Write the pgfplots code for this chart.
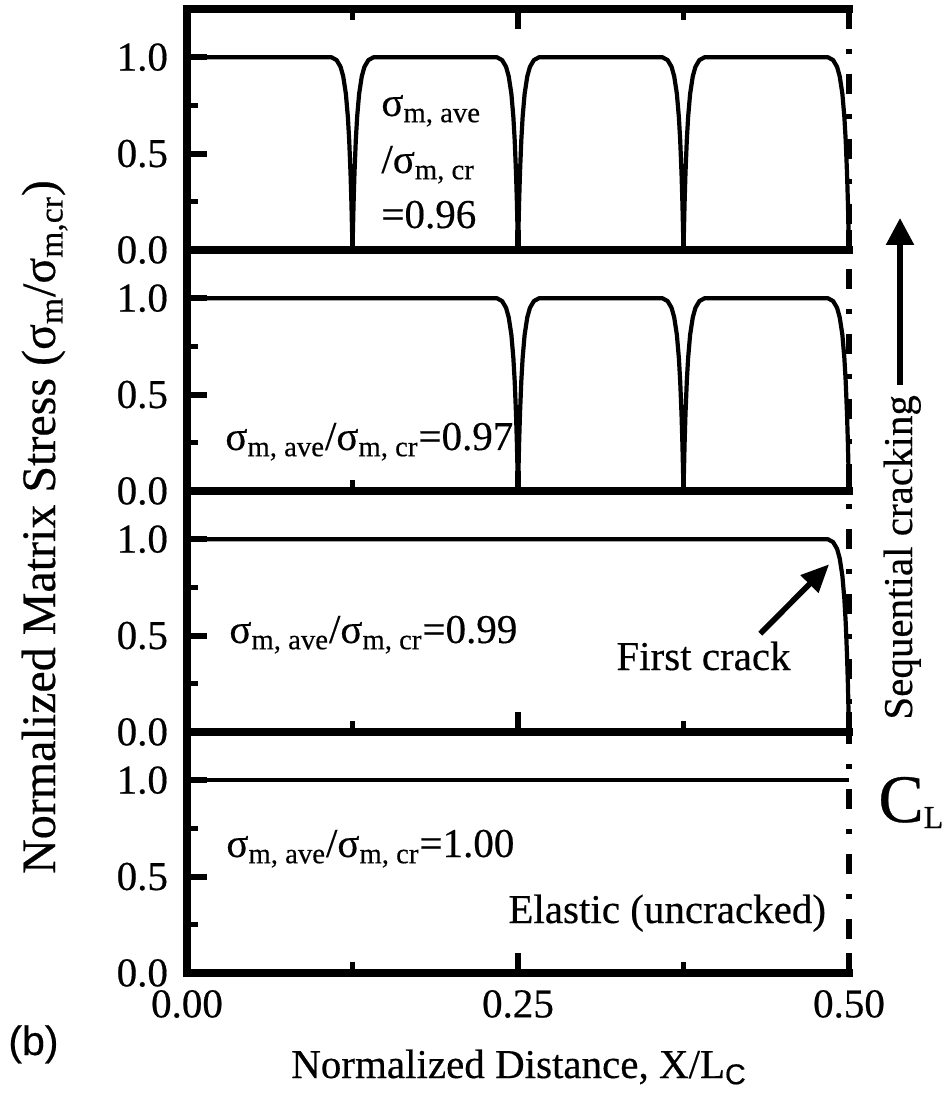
\documentclass[border=0pt]{standalone}
\usepackage{graphicx}
\usepackage{pgfplots}
\pgfplotsset{compat=1.18}
\usepackage{fontspec}
\setmainfont{Liberation Serif}[FakeBold=0.4]
\newfontfamily\sansf{Liberation Sans}[FakeBold=0.4]
\usetikzlibrary{arrows.meta}

\newcommand\fs{\fontsize{20.5}{24}\selectfont}
\newcommand\ratio{σ\textsubscript{m, ave}/σ\textsubscript{m, cr}}

\pgfplotsset{
  panel/.style={
    scale only axis, width=331pt, height=120.5pt,
    xmin=0, xmax=0.5, ymin=0, ymax=1.25,
    axis y line*=left, axis x line*=bottom,
    xtick={0,0.25,0.5}, minor xtick={0.125,0.375},
    ytick={0,0.5,1}, minor ytick={0.25,0.75},
    yticklabels={0.0,0.5,1.0},
    xticklabels={},
    tick align=inside,
    major tick length=0pt, minor tick length=0pt,
    tick label style={font=\fs},
    yticklabel style={xshift=-6pt},
    clip=false,
  },
}
\tikzset{
  stress/.style={black, line width=2.1pt, line join=round},
  frame/.style={black, line width=3.6pt, line cap=rect},
  tk/.style={black, line width=3pt},
  tkm/.style={black, line width=2.4pt},
}

% frame and inward ticks of one panel (left and bottom sides)
\newcommand\panelframe{%
  \draw[frame] (rel axis cs:0,1) -- (rel axis cs:0,0) -- (rel axis cs:1,0);
  \draw[tk] (axis cs:0,0.5) -- ++(10pt,0);
  \draw[tk] (axis cs:0,1) -- ++(10pt,0);
  \draw[tkm] (axis cs:0,0.25) -- ++(5.5pt,0);
  \draw[tkm] (axis cs:0,0.75) -- ++(5.5pt,0);
  \draw[tk] (axis cs:0.25,0) -- ++(0,10pt);
  \draw[tk] (axis cs:0.5,0) -- ++(0,10pt);
  \draw[tkm] (axis cs:0.125,0) -- ++(0,5.5pt);
  \draw[tkm] (axis cs:0.375,0) -- ++(0,5.5pt);
}

\begin{document}
\begin{tikzpicture}

% sigma_ave/sigma_cr = 0.96
\begin{axis}[panel, at={(93.5pt,-125pt)}, anchor=south west]
\addplot[stress, no markers] coordinates {
 (0,1) (0.109,1) (0.113,0.985) (0.116,0.95) (0.118,0.90) (0.120,0.81) (0.1215,0.69) (0.1225,0.57) (0.1235,0.40) (0.1242,0.24) (0.1246,0.12) (0.125,0)
 (0.1254,0.12) (0.1258,0.24) (0.1265,0.40) (0.1275,0.57) (0.1285,0.69) (0.130,0.81) (0.132,0.90) (0.134,0.95) (0.137,0.985) (0.141,1)
 (0.234,1) (0.238,0.985) (0.241,0.95) (0.243,0.90) (0.245,0.81) (0.2465,0.69) (0.2475,0.57) (0.2485,0.40) (0.2492,0.24) (0.2496,0.12) (0.25,0)
 (0.2504,0.12) (0.2508,0.24) (0.2515,0.40) (0.2525,0.57) (0.2535,0.69) (0.255,0.81) (0.257,0.90) (0.259,0.95) (0.262,0.985) (0.266,1)
 (0.359,1) (0.363,0.985) (0.366,0.95) (0.368,0.90) (0.370,0.81) (0.3715,0.69) (0.3725,0.57) (0.3735,0.40) (0.3742,0.24) (0.3746,0.12) (0.375,0)
 (0.3754,0.12) (0.3758,0.24) (0.3765,0.40) (0.3775,0.57) (0.3785,0.69) (0.380,0.81) (0.382,0.90) (0.384,0.95) (0.387,0.985) (0.391,1)
 (0.484,1) (0.488,0.985) (0.491,0.95) (0.493,0.90) (0.495,0.81) (0.4965,0.69) (0.4975,0.57) (0.4985,0.40) (0.4992,0.24) (0.4996,0.12) (0.5,0)
};
\panelframe
\draw[frame] (rel axis cs:0,1) -- (rel axis cs:1,1);
\draw[tk] (axis cs:0.25,1.25) -- ++(0,-10pt);
\draw[tkm] (axis cs:0.125,1.25) -- ++(0,-5.5pt);
\draw[tkm] (axis cs:0.375,1.25) -- ++(0,-5.5pt);
\end{axis}

% sigma_ave/sigma_cr = 0.97
\begin{axis}[panel, at={(93.5pt,-245.5pt)}, anchor=south west]
\addplot[stress, no markers] coordinates {
 (0,1)
 (0.234,1) (0.238,0.985) (0.241,0.95) (0.243,0.90) (0.245,0.81) (0.2465,0.69) (0.2475,0.57) (0.2485,0.40) (0.2492,0.24) (0.2496,0.12) (0.25,0)
 (0.2504,0.12) (0.2508,0.24) (0.2515,0.40) (0.2525,0.57) (0.2535,0.69) (0.255,0.81) (0.257,0.90) (0.259,0.95) (0.262,0.985) (0.266,1)
 (0.359,1) (0.363,0.985) (0.366,0.95) (0.368,0.90) (0.370,0.81) (0.3715,0.69) (0.3725,0.57) (0.3735,0.40) (0.3742,0.24) (0.3746,0.12) (0.375,0)
 (0.3754,0.12) (0.3758,0.24) (0.3765,0.40) (0.3775,0.57) (0.3785,0.69) (0.380,0.81) (0.382,0.90) (0.384,0.95) (0.387,0.985) (0.391,1)
 (0.484,1) (0.488,0.985) (0.491,0.95) (0.493,0.90) (0.495,0.81) (0.4965,0.69) (0.4975,0.57) (0.4985,0.40) (0.4992,0.24) (0.4996,0.12) (0.5,0)
};
\panelframe
\end{axis}

% sigma_ave/sigma_cr = 0.99 (first crack)
\begin{axis}[panel, at={(93.5pt,-366pt)}, anchor=south west]
\addplot[stress, no markers] coordinates {
 (0,1)
 (0.484,1) (0.488,0.985) (0.491,0.95) (0.493,0.90) (0.495,0.81) (0.4965,0.69) (0.4975,0.57) (0.4985,0.40) (0.4992,0.24) (0.4996,0.12) (0.5,0)
};
\panelframe
\draw[line width=2.8pt, -{Triangle[length=14pt,width=12pt]}]
  (axis cs:0.433,0.51) -- (axis cs:0.485,0.87);
\end{axis}

% sigma_ave/sigma_cr = 1.00 (elastic)
\begin{axis}[panel, at={(93.5pt,-486.5pt)}, anchor=south west,
  xticklabels={0.00,0.25,0.50},
  xticklabel style={yshift=-5pt}]
\addplot[stress, no markers] coordinates {(0,1) (0.5,1)};
\panelframe
\end{axis}

\begin{scope}[x=0.5pt, y=-0.5pt]
% centre line C_L
\draw[line width=3.2pt, dash pattern=on 10pt off 10pt on 2.5pt off 10pt] (849,9) -- (849,973);

% panel annotations
\node[font=\fs, anchor=base west, inner sep=0] at (381,116) {σ\textsubscript{m, ave}};
\node[font=\fs, anchor=base west, inner sep=0] at (381,173) {/σ\textsubscript{m, cr}};
\node[font=\fs, anchor=base west, inner sep=0] at (381,228) {=0.96};
\node[font=\fs, anchor=base west, inner sep=0] at (225,450) {\ratio=0.97};
\node[font=\fs, anchor=base west, inner sep=0] at (229,643) {\ratio=0.99};
\node[font=\fs, anchor=base west, inner sep=0] at (226,857) {\ratio=1.00};
\node[font=\fs, anchor=base west, inner sep=0] at (616,670) {First crack};
\node[font=\fs, anchor=base west, inner sep=0] at (508,923) {Elastic (uncracked)};

% centre-line symbol
\node[font=\fontsize{34}{40}\selectfont, anchor=base west, inner sep=0] at (878,822)
  {C\raisebox{-3pt}{\fontsize{16}{16}\selectfont L}};

% sequential cracking arrow
\draw[line width=2.8pt, -{Triangle[length=13.5pt,width=13.5pt]}] (900,385) -- (900,218);
\node[rotate=90, anchor=base west, inner sep=0, font=\fontsize{20.5}{24}\selectfont] at (912,720)
  {Sequential cracking};

% axis titles
\node[rotate=90, anchor=base, inner sep=0, font=\fontsize{24}{28}\selectfont] at (55,527)
  {Normalized Matrix Stress (σ\textsubscript{m}/σ\textsubscript{m,cr})};
\node[anchor=base, inner sep=0, font=\fs] at (519,1078)
  {Normalized Distance, X/L\textsubscript{\sansf C}};
\node[anchor=base west, inner sep=0, font=\sansf\fs] at (8,1055) {(b)};

\pgfresetboundingbox
\path[use as bounding box] (0,0) rectangle (943,1095);
\end{scope}
\end{tikzpicture}
\end{document}
